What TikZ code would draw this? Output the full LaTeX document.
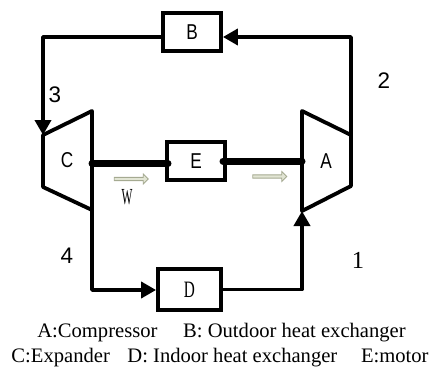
\documentclass[tikz,border=0pt]{standalone}
\usepackage{fontspec}
\setmainfont{Liberation Serif}
\newfontfamily\labelfont[FakeStretch=0.8]{Liberation Sans}
\newfontfamily\numfont{Liberation Sans}
\newfontfamily\narrowfont[FakeStretch=0.65]{Liberation Serif}
\newfontfamily\thinfont[FakeStretch=0.5]{Liberation Serif}
\usetikzlibrary{arrows.meta,shapes.arrows}
\definecolor{flowline}{RGB}{165,170,145}
\definecolor{flowfill}{RGB}{226,229,212}
\tikzset{
    box/.style={draw,line width=3.8pt,minimum width=58pt,minimum height=38pt,font=\labelfont\fontsize{21.5}{24}\selectfont},
    pipe/.style={line width=3.8pt,line join=round},
    shaft/.style={line width=7pt,line cap=round},
    flow/.style={single arrow,draw=flowline,fill=flowfill,line width=0.8pt,minimum height=34pt,minimum width=10pt,inner sep=0.8pt,single arrow head extend=2.5pt},
    legend/.style={font=\fontsize{20.6}{24}\selectfont},
    number/.style={font=\numfont\fontsize{22.5}{24}\selectfont}
}
\begin{document}
\begin{tikzpicture}[x=1pt,y=-1pt,>={Triangle[length=15pt,width=16pt]}]
    \useasboundingbox (0,0) rectangle (432,372);
    \node[box] (b) at (192,32) {B};
    \node[box] (e) at (196,161) {E};
    \node[box,minimum width=63pt,minimum height=41pt,font=\narrowfont\fontsize{23.5}{26}\selectfont] (d) at (189.5,289.5) {D};
    % expander and compressor
    \coordinate (c1) at (43,135);
    \coordinate (c2) at (92,111);
    \coordinate (c3) at (92,210);
    \coordinate (c4) at (43,187);
    \coordinate (a1) at (302,111);
    \coordinate (a2) at (351,135);
    \coordinate (a3) at (351,186);
    \coordinate (a4) at (302,211);
    \draw[pipe] (c1) -- (c2) -- (c3) -- (c4) -- cycle;
    \draw[pipe] (a1) -- (a2) -- (a3) -- (a4) -- cycle;
    \node[font=\labelfont\fontsize{21.5}{24}\selectfont] (clabel) at (67,160) {C};
    \node[font=\labelfont\fontsize{21.5}{24}\selectfont] (alabel) at (326,161) {A};
    % shafts
    \coordinate (sc) at (92,163.5);
    \coordinate (se) at (168,163.5);
    \coordinate (sf) at (223,161);
    \coordinate (sa) at (302,161);
    \draw[shaft] (sc) -- (se);
    \draw[shaft] (sf) -- (sa);
    % refrigerant loop
    \coordinate (top) at (351,37);
    \coordinate (left) at (43,37);
    \coordinate (low) at (92,290);
    \draw[pipe,->] (a2) -- (top) -- (b.east |- top);
    \draw[pipe,->] (b.west |- left) -- (left) -- (c1);
    \draw[pipe,->] (c3) -- (low) -- (d.west |- low);
    \draw[pipe,->] (d.east) -| (a4);
    % labels
    \node[number] (n2) at (384,81) {2};
    \node[number] (n3) at (55,95) {3};
    \node[number] (n4) at (67,256) {4};
    \node[font=\fontsize{24.5}{26}\selectfont] (n1) at (358,260) {1};
    \node[font=\thinfont\fontsize{23}{25}\selectfont] (w) at (127,197) {W};
    \node[flow] (f1) at (130.5,179) {};
    \node[flow] (f2) at (269,176.5) {};
    \node[legend] (t1) at (221.5,333) {A:Compressor\hspace{1em} B: Outdoor heat exchanger};
    \node[legend] (t2) at (220,358) {C:Expander\hspace{0.6em} D: Indoor heat exchanger\hspace{0.9em} E:motor};
\end{tikzpicture}
\end{document}
